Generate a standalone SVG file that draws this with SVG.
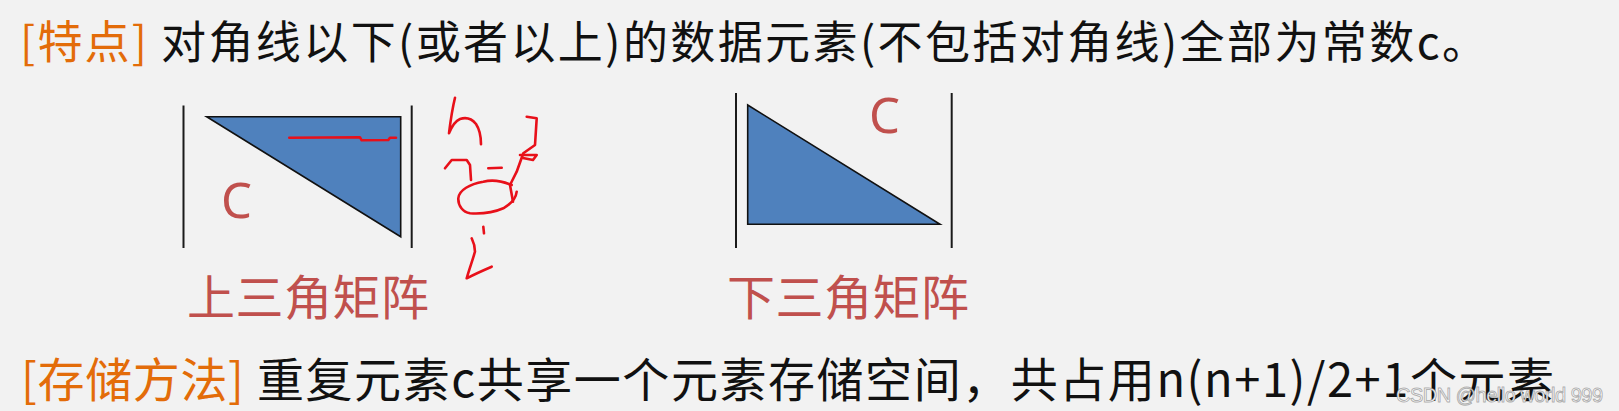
<svg xmlns="http://www.w3.org/2000/svg" width="1619" height="411" viewBox="0 0 1619 411">
<style>
.cjk{font-family:"Noto Sans CJK SC","Noto Sans",sans-serif}
.head{fill:#E36C09}
.body{fill:#111111}
.lbl{fill:#C0504D}
.c{font-family:"Noto Sans","Liberation Sans",sans-serif;fill:#C0504D;font-size:49px}
.bar{stroke:#1a1a1a;stroke-width:2}
.tri{fill:#4F81BD;stroke:#111;stroke-width:1.6;stroke-linejoin:miter}
.ink{fill:none;stroke:#E8101A;stroke-width:2.6;stroke-linecap:round;stroke-linejoin:round}
</style>
<rect width="1619" height="411" fill="#F2F2F2"/>
<g id="title">
<text class="cjk head" x="20" y="59" font-size="45" textLength="127">[特点]</text>
<text class="cjk body" x="161" y="59" font-size="45" textLength="1326">对角线以下(或者以上)的数据元素(不包括对角线)全部为常数c。</text>
</g>
<g id="upper-matrix">
<line class="bar" x1="183.5" y1="105.5" x2="183.5" y2="248"/>
<line class="bar" x1="411.7" y1="105.5" x2="411.7" y2="248"/>
<polygon class="tri" points="206.7,116.7 400.7,116.7 400.7,236.7"/>
<text class="c" x="221" y="218">C</text>
<text class="cjk lbl" x="187" y="315" font-size="48" textLength="242">上三角矩阵</text>
</g>
<g id="lower-matrix">
<line class="bar" x1="736" y1="93" x2="736" y2="248"/>
<line class="bar" x1="951.7" y1="93" x2="951.7" y2="248"/>
<polygon class="tri" points="747.7,105 747.7,224.3 940,224.3"/>
<text class="c" x="869" y="133">C</text>
<text class="cjk lbl" x="727" y="315" font-size="48" textLength="242">下三角矩阵</text>
</g>
<g id="storage">
<text class="cjk head" x="21" y="397" font-size="47" textLength="223">[存储方法]</text>
<text class="cjk body" x="257" y="397" font-size="47" textLength="1297">重复元素c共享一个元素存储空间，共占用n(n+1)/2+1个元素</text>
</g>
<g id="annotations">
<path class="ink" d="M289.3,137.7 L360,137.3 L361.7,140.3 L388.3,140 L390,137.7 L396,137.7"/>
<path class="ink" d="M455,97.7 C452,110 450,125 449,133.3 C452,126 455,121 460,119 C466,117 472,119 476,124 C480,130 481,138 481,144.3"/>
<path class="ink" d="M445,168.3 L451.7,160 L466.7,160 L470,165 L471,180"/>
<path class="ink" d="M488.3,168.3 L501.7,167.7"/>
<path class="ink" d="M526.7,116.7 L536.7,118.3 L535,145 L523.3,153.3 L516.7,171.7 L510,185 L513,201.7"/>
<path class="ink" d="M520,155 L536.7,155 L533,160 L523,158"/>
<path class="ink" d="M511.7,185 C500,180 490,180 483.3,181.7 C470,184 459,190 458.3,198.3 C458,206 463,212 470,213.3 C482,214 495,212 503.3,208.3 C511,204 516,198 516.7,191.7"/>
<path class="ink" d="M483.3,226.7 L484,233.3"/>
<path class="ink" d="M471.7,238.3 C474,243 475,247 475,251.7 C472,262 469,270 466.7,278.3 C475,274 484,270 491.7,266.7"/>
</g>
<g id="watermark">
<text x="1396" y="402" font-family="Liberation Sans, sans-serif" font-size="20" textLength="207" fill="#FFFFFF" stroke="#555" stroke-opacity="0.45" stroke-width="1">CSDN @hello world 999</text>
</g>
</svg>
